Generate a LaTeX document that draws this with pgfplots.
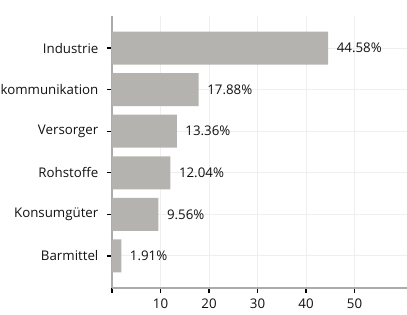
\documentclass[border=0pt]{standalone}
\usepackage{pgfplots}
\pgfplotsset{compat=1.18}
\usepackage{fontspec}
\setmainfont{Open Sans}
\definecolor{barc}{HTML}{B4B3AF}
\definecolor{axc}{HTML}{ABABAB}
\definecolor{gridc}{HTML}{EFEFEF}
\definecolor{txt}{HTML}{111111}
\newcommand{\lblfont}{\fontsize{13.3bp}{16bp}\selectfont}
\begin{document}
\lblfont
\begin{tikzpicture}
\begin{axis}[
  at={(0,0)}, anchor=south west,
  scale only axis, width=295.9bp, height=272bp,
  xbar, bar width=33bp,
  xmin=0, xmax=61, ymin=-0.77, ymax=5.77,
  ytick={0,1,2,3,4,5},
  yticklabels={Barmittel,Konsumgüter,Rohstoffe,Versorger,Telekommunikation,Industrie},
  xtick={0,10,20,30,40,50},
  xticklabels={,10,20,30,40,50},
  axis lines*=left,
  axis line style={axc, line width=1.2bp},
  tick style={black, line width=1.2bp},
  tick align=outside, major tick length=5bp,
  grid=major, grid style={gridc, line width=1bp},
  /pgf/number format/assume math mode=true,
  tick label style={font=\lblfont, text=txt},
  yticklabel style={xshift=-4bp},
  xticklabel style={yshift=-1bp},
  nodes near coords, point meta=explicit symbolic,
  nodes near coords align=horizontal,
  every node near coord/.append style={font=\lblfont, text=txt, anchor=west, xshift=4bp},
]
\addplot[fill=barc, draw=none] coordinates {
  (1.91,0) [1.91\%]
  (9.56,1) [9.56\%]
  (12.04,2) [12.04\%]
  (13.36,3) [13.36\%]
  (17.88,4) [17.88\%]
  (44.58,5) [44.58\%]
};
\end{axis}
\pgfresetboundingbox
\path[use as bounding box] (-112bp,-27bp) rectangle (295bp,288bp);
\end{tikzpicture}
\end{document}
